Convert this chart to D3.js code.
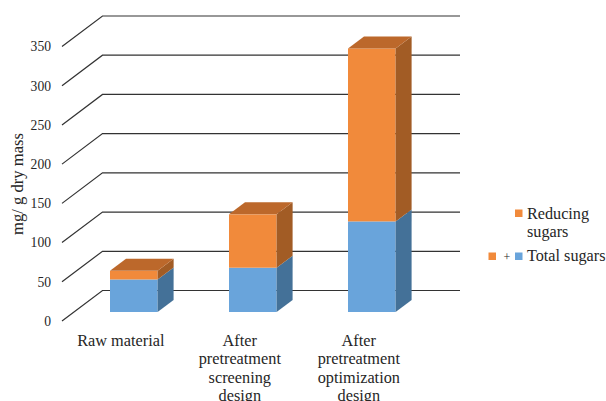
<!DOCTYPE html>
<html>
<head>
<meta charset="utf-8">
<script src="https://cdn.jsdelivr.net/npm/d3@7"></script>
<style>
html, body { margin: 0; padding: 0; background: #fff; }
svg { display: block; }
text { font-family: "Liberation Serif", "Times New Roman", serif; fill: #262626; }
</style>
</head>
<body>
<div id="chart"></div>
<script>
// Stacked 3D column chart of sugar content per pretreatment stage
const categories = [
  ["Raw material"],
  ["After", "pretreatment", "screening", "design"],
  ["After", "pretreatment", "optimization", "design"]
];
const totalSugars = [41.5, 56.5, 115.5];
const reducingSugars = [11, 68, 220.5];
const yTicks = [0, 50, 100, 150, 200, 250, 300, 350];
const yTitle = "mg/ g dry mass";

const width = 606, height = 401;
const svg = d3.select("#chart").append("svg").attr("width", width).attr("height", height);

// Front edge of the floor and the oblique offset of the back wall
const wallY = d3.scaleLinear().domain([0, 350]).range([321, 46.5]);
const wallLeft = 62, wallDx = 40.5, wallDy = -30.5, wallRight = 460;

// Bars stand part-way into the depth of the chart
const barY = d3.scaleLinear().domain([0, 350]).range([312, 37.5]);
const barX = d3.scaleBand().domain(d3.range(categories.length))
  .range([74.3, 431.3]).paddingInner(0.6).paddingOuter(0.3);
const depthX = 16, depthY = -12;

// Gridlines run along the back wall and drop diagonally to the front
const line = d3.line();
svg.append("g").selectAll("path").data(yTicks).join("path")
  .attr("d", d => line([
    [wallLeft, wallY(d)],
    [wallLeft + wallDx, wallY(d) + wallDy],
    [wallRight, wallY(d) + wallDy]
  ]))
  .attr("fill", "none").attr("stroke", "#333").attr("stroke-width", 1.2);

// Value axis labels
svg.append("g").selectAll("text").data(yTicks).join("text")
  .attr("x", 51).attr("y", d => wallY(d) + 0.5)
  .attr("dy", "0.32em").attr("text-anchor", "end")
  .attr("font-size", 13.6).text(d => d);

svg.append("text")
  .attr("transform", "translate(23,184) rotate(-90)")
  .attr("text-anchor", "middle").attr("font-size", 16.6).text(yTitle);

// One box per stacked segment, lower segments first
const palette = {
  total: { front: "#69A4DB", side: "#447198", top: "#4F7FAC" },
  reducing: { front: "#F18A3B", side: "#A25C25", top: "#BC682B" }
};
const segments = categories.flatMap((_, i) => [
  { i, from: 0, to: totalSugars[i], colors: palette.total },
  { i, from: totalSugars[i], to: totalSugars[i] + reducingSugars[i], colors: palette.reducing }
]);

const boxes = svg.append("g").selectAll("g").data(segments).join("g");
boxes.append("rect")
  .attr("x", d => barX(d.i)).attr("width", barX.bandwidth())
  .attr("y", d => barY(d.to)).attr("height", d => barY(d.from) - barY(d.to))
  .attr("fill", d => d.colors.front);
boxes.append("path")
  .attr("d", d => {
    const x = barX(d.i) + barX.bandwidth();
    return line([
      [x, barY(d.from)], [x + depthX, barY(d.from) + depthY],
      [x + depthX, barY(d.to) + depthY], [x, barY(d.to)]
    ]) + "Z";
  })
  .attr("fill", d => d.colors.side);
boxes.filter(d => d.colors === palette.reducing).append("path")
  .attr("d", d => {
    const x = barX(d.i), w = barX.bandwidth(), y = barY(d.to);
    return line([
      [x, y], [x + w, y], [x + w + depthX, y + depthY], [x + depthX, y + depthY]
    ]) + "Z";
  })
  .attr("fill", d => d.colors.top);

// Wrapped category labels
const catLabels = svg.append("g").selectAll("text").data(categories).join("text")
  .attr("text-anchor", "middle").attr("font-size", 16.3);
catLabels.selectAll("tspan").data((d, i) => d.map((t, n) => ({ t, n, i }))).join("tspan")
  .attr("x", d => barX(d.i) + barX.bandwidth() / 2 - 13)
  .attr("y", d => 345.5 + d.n * 18.5)
  .text(d => d.t);

// Legend
const legend = svg.append("g");
const legendSwatch = (x, y, fill) => legend.append("rect")
  .attr("x", x).attr("y", y).attr("width", 7.5).attr("height", 7.5).attr("fill", fill);
const legendText = (x, y, t) => legend.append("text")
  .attr("x", x).attr("y", y).attr("font-size", 16.2).text(t);

legendSwatch(515, 209.5, palette.reducing.front);
legendText(527, 218.5, "Reducing");
legendText(527, 237, "sugars");
legendSwatch(488.5, 252.5, palette.reducing.front);
legend.append("text").attr("x", 507).attr("y", 260.5).attr("text-anchor", "middle")
  .attr("font-size", 12).attr("font-family", "Liberation Sans").text("+");
legendSwatch(515, 252.5, palette.total.front);
legendText(527, 261, "Total sugars");
</script>
</body>
</html>
